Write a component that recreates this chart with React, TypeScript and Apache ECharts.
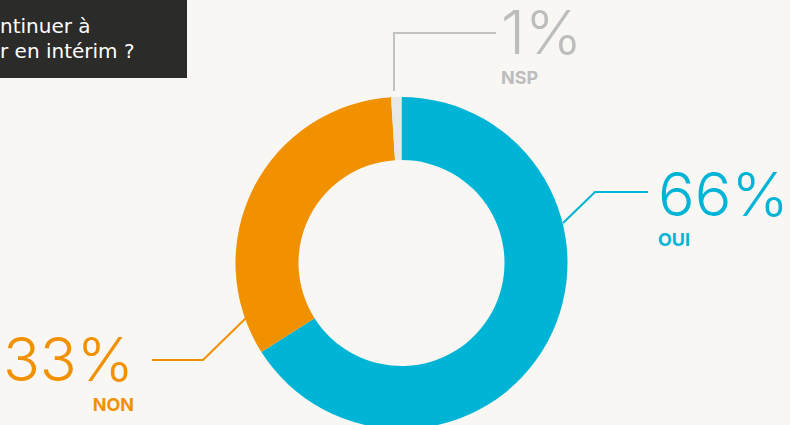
import React, { useEffect, useRef } from 'react';
import * as echarts from 'echarts';

const categories = ['OUI', 'NON', 'NSP'];
const values = [66, 33, 1];
const sliceColors = ['#00b4d5', '#f29100', '#e8e8e7'];
const labelColors = ['#00b4d5', '#f29100', '#bdbdbd'];
const lineColors = ['#00b4d5', '#f29100', '#c2c2c2'];
// visible part of the (cropped) question box
const titleLines = ['ntinuer à', 'r en intérim ?'];

const labelPlacement = [
  { x: 658, y: 164, align: 'left', points: [[563, 223], [595, 192], [648, 192]] },
  { x: 134, y: 329, align: 'right', points: [[247, 317], [203, 360], [152, 360]] },
  { x: 501, y: 2, align: 'left', points: [[394, 91], [394, 33], [496, 33]] },
];

const FONT = 'Inter, "Noto Sans", sans-serif';
const TITLE_FONT = '"DejaVu Sans", "Noto Sans", sans-serif';

export default function App() {
  const ref = useRef<HTMLDivElement>(null);
  useEffect(() => {
    if (!ref.current) return;
    const chart = echarts.init(ref.current, undefined, { renderer: 'svg' });
    const data = categories.map((name, i) => ({
      name,
      value: values[i],
      itemStyle: { color: sliceColors[i] },
      label: {
        color: labelColors[i],
        rich: {
          v: { fontFamily: FONT, fontSize: 61, fontWeight: 300, color: labelColors[i], lineHeight: 60 },
          n: { fontFamily: FONT, fontSize: 18, fontWeight: 'bold', color: labelColors[i], lineHeight: 31 },
        },
      },
      labelLine: { show: true, lineStyle: { color: lineColors[i], width: 2 } },
    }));
    chart.setOption({
      animation: false,
      backgroundColor: '#f8f7f4',
      graphic: [
        { type: 'rect', left: 0, top: 0, shape: { x: 0, y: 0, width: 187, height: 78 }, style: { fill: '#2b2b2a' } },
        { type: 'text', x: 0, y: 16, style: { text: titleLines[0], fill: '#ffffff', fontFamily: TITLE_FONT, fontSize: 20, textAlign: 'left', textVerticalAlign: 'alphabetic' } },
        { type: 'text', x: 0, y: 41, style: { text: titleLines[1], fill: '#ffffff', fontFamily: TITLE_FONT, fontSize: 20, textAlign: 'left', textVerticalAlign: 'alphabetic' } },
      ],
      series: [
        {
          type: 'pie',
          center: [401.5, 263],
          radius: [103, 166],
          startAngle: 90,
          clockwise: true,
          avoidLabelOverlap: false,
          silent: true,
          label: {
            show: true,
            position: 'outside',
            formatter: (p: any) => `{v|${p.value}%}\n{n|${p.name}}`,
          },
          labelLine: { show: true, length: 10, length2: 10 },
          labelLayout: (params: any) => {
            const l = labelPlacement[params.dataIndex];
            return {
              x: l.x,
              y: l.y,
              align: l.align,
              verticalAlign: 'top',
              labelLinePoints: l.points,
            };
          },
          data,
        },
      ],
    });
    return () => chart.dispose();
  }, []);
  return <div ref={ref} style={{ position: 'fixed', left: 0, top: 0, width: 790, height: 425 }} />;
}
